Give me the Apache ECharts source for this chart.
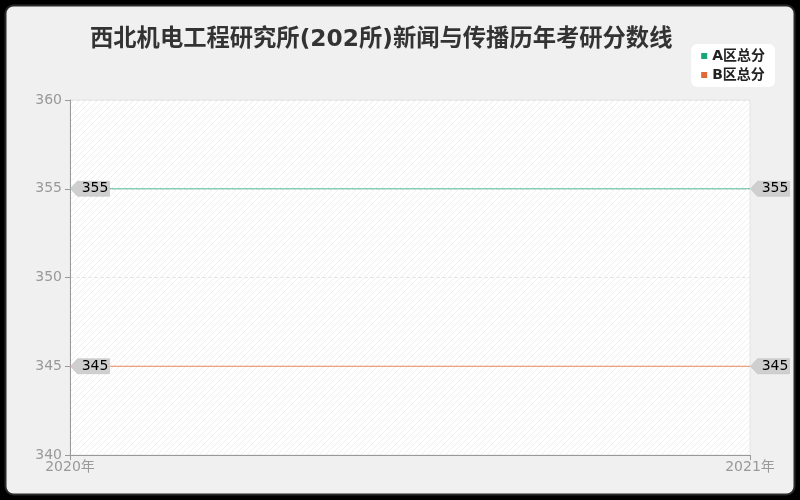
<!DOCTYPE html>
<html>
<head>
<meta charset="utf-8">
<script src="https://cdn.jsdelivr.net/npm/echarts@6/dist/echarts.min.js"></script>
<style>
  html, body { margin: 0; padding: 0; background: #000; }
  #chart { width: 800px; height: 500px; }
</style>
</head>
<body>
<div id="chart"></div>
<script>
const years = ["2020年", "2021年"];
const scoreA = [355, 355];
const scoreB = [345, 345];
const yTicks = [340, 345, 350, 355, 360];

const font = "'DejaVu Sans', 'Noto Sans CJK SC', sans-serif";

// hatched background for the plot area
const hatch = document.createElement("canvas");
hatch.width = 6;
hatch.height = 6;
const ctx = hatch.getContext("2d");
ctx.fillStyle = "#ffffff";
ctx.fillRect(0, 0, 6, 6);
ctx.strokeStyle = "#efefef";
ctx.lineWidth = 1;
ctx.beginPath();
ctx.moveTo(0, 6); ctx.lineTo(6, 0);
ctx.moveTo(-1, 1); ctx.lineTo(1, -1);
ctx.moveTo(5, 7); ctx.lineTo(7, 5);
ctx.stroke();

const tagPath = "path://M0,7 L7,0 L39,0 L39,14 L7,14 Z";

const tags = (vals) => ({
  symbol: tagPath,
  symbolSize: [39, 15],
  symbolOffset: [20, 0],
  itemStyle: { color: "#cfcfcf", borderColor: "#bdbdbd", borderWidth: 0.5 },
  label: {
    show: true,
    color: "#000",
    fontSize: 14,
    fontFamily: font,
    offset: [5, 0],
    formatter: (p) => p.value
  },
  data: vals.map((v, i) => ({ coord: [i, v], value: v }))
});

const chart = echarts.init(document.getElementById("chart"));
chart.setOption({
  backgroundColor: "#000",
  animation: false,
  textStyle: { fontFamily: font },
  graphic: [{
    type: "rect",
    z: -10,
    silent: true,
    shape: { x: 5.5, y: 5.5, width: 789, height: 489, r: 8 },
    style: { fill: "#f0f0f0", stroke: "#2a2a2a", lineWidth: 2 }
  }],
  title: {
    text: "西北机电工程研究所(202所)新闻与传播历年考研分数线",
    left: 85,
    top: 23,
    textStyle: { fontSize: 23.3, fontWeight: "bold", color: "#333", fontFamily: font }
  },
  legend: {
    right: 25,
    top: 44,
    orient: "vertical",
    backgroundColor: "#fff",
    borderRadius: 6,
    padding: [5, 10, 5, 10],
    itemGap: 5,
    itemWidth: 6,
    itemHeight: 6,
    icon: "rect",
    textStyle: { fontSize: 14, fontWeight: "bold", color: "#222", fontFamily: font },
    data: ["A区总分", "B区总分"]
  },
  grid: {
    left: 70,
    right: 50,
    top: 100,
    bottom: 45,
    show: true,
    backgroundColor: { image: hatch, repeat: "repeat" },
    borderColor: "#e4e4e4",
    borderWidth: 1
  },
  xAxis: {
    type: "category",
    boundaryGap: false,
    data: years,
    axisLine: { lineStyle: { color: "#999" } },
    axisTick: { show: true, lineStyle: { color: "#999" } },
    axisLabel: { color: "#999", fontSize: 14, margin: 5, fontFamily: font },
    splitLine: { show: false }
  },
  yAxis: {
    type: "value",
    min: yTicks[0],
    max: yTicks[yTicks.length - 1],
    interval: 5,
    axisLine: { show: true, lineStyle: { color: "#999" } },
    axisTick: { show: true, lineStyle: { color: "#999" } },
    axisLabel: { color: "#999", fontSize: 14, fontFamily: font },
    splitLine: { show: true, lineStyle: { color: "#e6e6e6", type: "dashed" } }
  },
  series: [
    {
      name: "A区总分",
      type: "line",
      data: scoreA,
      showSymbol: false,
      color: "#1aa576",
      lineStyle: { width: 1, color: "#5cbfa0" },
      markPoint: tags(scoreA)
    },
    {
      name: "B区总分",
      type: "line",
      data: scoreB,
      showSymbol: false,
      color: "#e2683a",
      lineStyle: { width: 1, color: "#ea8a5e" },
      markPoint: tags(scoreB)
    }
  ]
});
</script>
</body>
</html>
